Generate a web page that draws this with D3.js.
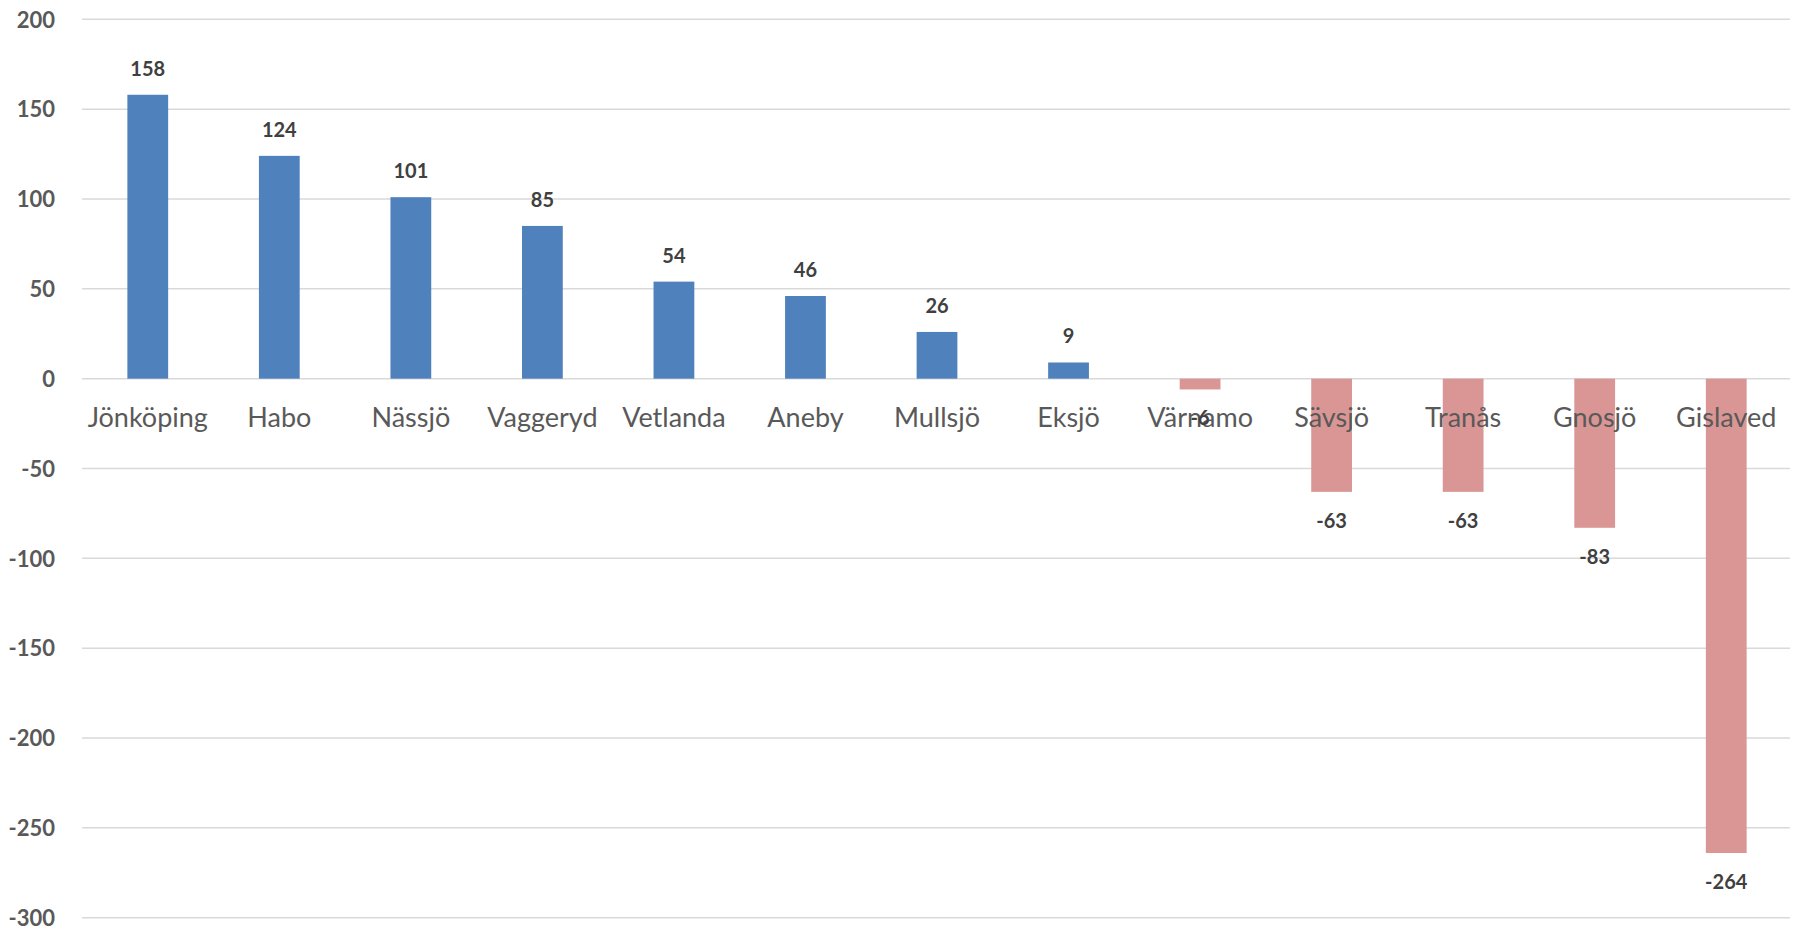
<!DOCTYPE html>
<html><head><meta charset="utf-8">
<script src="https://cdn.jsdelivr.net/npm/d3@7"></script>
<style>body{margin:0;background:#fff}svg{display:block}</style>
</head><body>
<svg id="c" width="1796" height="945"></svg>
<script>
const categories = ["Jönköping","Habo","Nässjö","Vaggeryd","Vetlanda","Aneby","Mullsjö","Eksjö","Värnamo","Sävsjö","Tranås","Gnosjö","Gislaved"];
const values = [158,124,101,85,54,46,26,9,-6,-63,-63,-83,-264];
const yTicks = [200,150,100,50,0,-50,-100,-150,-200,-250,-300];

const svg = d3.select("#c");
const font = "Lato, 'Open Sans', sans-serif";
const x = d3.scaleBand().domain(categories).range([82,1792]).paddingInner(0.69).paddingOuter(0.345);
const y = d3.scaleLinear().domain([-300,200]).range([917.7,19.3]);

// gridlines
svg.append("g").selectAll("line").data(yTicks).join("line")
  .attr("x1",82).attr("x2",1790)
  .attr("y1",d=>y(d)).attr("y2",d=>y(d))
  .attr("stroke","#d9d9d9").attr("stroke-width",1.5);

// y axis labels
const yAxis = d3.axisLeft(y).tickValues(yTicks).tickSize(0).tickPadding(0).tickFormat(d=>String(d));
const ga = svg.append("g").attr("transform","translate(55,0)").call(yAxis);
ga.select(".domain").remove();
ga.selectAll("text").attr("font-family",font).attr("font-size",22).attr("font-weight","bold").attr("fill","#595959").attr("dy","0.35em");

// bars
svg.append("g").selectAll("rect").data(values).join("rect")
  .attr("x",(d,i)=>x(categories[i]))
  .attr("width",x.bandwidth())
  .attr("y",d=>y(Math.max(0,d)))
  .attr("height",d=>Math.abs(y(d)-y(0)))
  .attr("fill",d=>d>=0?"#4f81bd":"#d99694");

// category labels
const xAxis = d3.axisBottom(x).tickSize(0).tickPadding(0);
const gx = svg.append("g").attr("transform",`translate(0,${y(0)})`).call(xAxis);
gx.select(".domain").remove();
gx.selectAll("text").attr("font-family",font).attr("font-size",27).attr("fill","#595959").attr("y",48).attr("dy",0);

// value labels
svg.append("g").selectAll("text").data(values).join("text")
  .attr("x",(d,i)=>x(categories[i])+x.bandwidth()/2)
  .attr("y",d=>d>=0? y(d)-19 : y(d)+36)
  .attr("text-anchor","middle")
  .attr("font-family",font).attr("font-size",20).attr("font-weight","bold").attr("fill","#404040")
  .text(d=>String(d));
</script>
</body></html>
